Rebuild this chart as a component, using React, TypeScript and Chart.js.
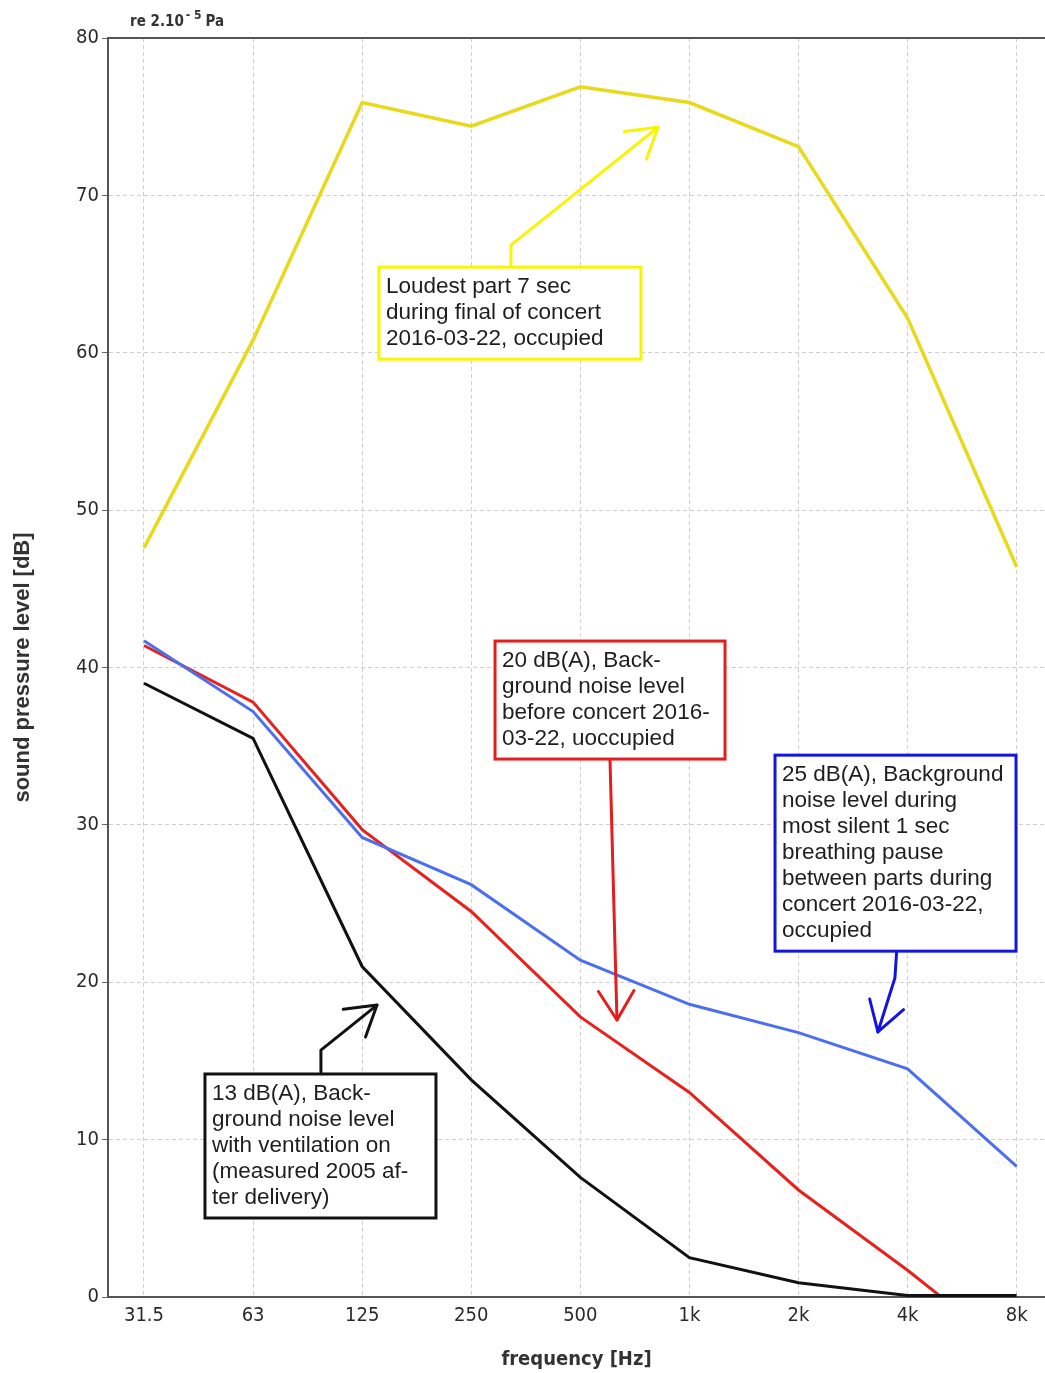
import React, { useEffect, useRef } from "react";
import { Chart, registerables } from "chart.js";

Chart.register(...registerables);

// ---- data ----
const frequencyLabels = ["31.5", "63", "125", "250", "500", "1k", "2k", "4k", "8k"];
const octaveIndex = [0, 1, 2, 3, 4, 5, 6, 7, 8];
const yTickValues = [0, 10, 20, 30, 40, 50, 60, 70, 80];

const loudestConcert = [47.6, 60.8, 75.9, 74.4, 76.9, 75.9, 73.1, 62.2, 46.4];
const backgroundBefore = [41.4, 37.8, 29.7, 24.5, 17.8, 13.0, 6.8, 1.7, -3.8];
const breathingPause = [41.7, 37.2, 29.2, 26.2, 21.4, 18.6, 16.8, 14.5, 8.3];
const ventilationOn = [39.0, 35.5, 21.0, 13.8, 7.6, 2.5, 0.9, 0.1, 0.1];

const yellowText = ["Loudest part 7 sec", "during final of concert", "2016-03-22, occupied"];
const redText = ["20 dB(A), Back-", "ground noise level", "before concert 2016-", "03-22, uoccupied"];
const blueText = [
  "25 dB(A), Background",
  "noise level during",
  "most silent 1 sec",
  "breathing pause",
  "between parts during",
  "concert 2016-03-22,",
  "occupied",
];
const blackText = ["13 dB(A), Back-", "ground noise level", "with ventilation on", "(measured 2005 af-", "ter delivery)"];

// annotation anchors in data coordinates (octave index, dB)
const yellowBoxAt = [2.154, 65.44];
const redBoxAt = [3.218, 41.68];
const blueBoxAt = [5.785, 34.43];
const blackBoxAt = [0.559, 14.17];
const yellowArrow = [[3.364, 65.44], [3.364, 66.84], [4.712, 74.33]];
const redArrow = [[4.272, 34.18], [4.336, 17.6]];
const blueArrow = [[6.902, 22.17], [6.884, 20.27], [6.728, 16.84]];
const blackArrow = [[1.622, 14.29], [1.622, 15.69], [2.136, 18.55]];

const TICK_FONT = "'Liberation Sans Narrow', 'DejaVu Sans Condensed', 'Liberation Sans', sans-serif";
const BOX_FONT = "'Liberation Sans', Arial, sans-serif";

type Ann = {
  color: string;
  lines: string[];
  at: number[];
  width: number;
  arrow: number[][];
};

const annotations: Ann[] = [
  { color: "#f7f500", lines: yellowText, at: yellowBoxAt, width: 262, arrow: yellowArrow },
  { color: "#e41d1d", lines: redText, at: redBoxAt, width: 230, arrow: redArrow },
  { color: "#1414e0", lines: blueText, at: blueBoxAt, width: 241, arrow: blueArrow },
  { color: "#111111", lines: blackText, at: blackBoxAt, width: 231, arrow: blackArrow },
];

const decorPlugin = {
  id: "decor",
  afterDraw(chart: any) {
    const { ctx, chartArea, scales } = chart;
    const xs = scales.x;
    const ys = scales.y;
    ctx.save();

    // top frame line
    ctx.strokeStyle = "#555";
    ctx.lineWidth = 2;
    ctx.beginPath();
    ctx.moveTo(chartArea.left, chartArea.top);
    ctx.lineTo(chartArea.right, chartArea.top);
    ctx.stroke();

    // reference note
    ctx.fillStyle = "#333";
    ctx.textBaseline = "alphabetic";
    ctx.textAlign = "left";
    ctx.font = `bold 15px ${TICK_FONT}`;
    let nx = chartArea.left + 22;
    const ny = chartArea.top - 12;
    ctx.fillText("re 2.10", nx, ny);
    nx += ctx.measureText("re 2.10").width;
    ctx.font = `bold 12px ${TICK_FONT}`;
    ctx.fillText("- 5", nx + 2, ny - 7);
    nx += ctx.measureText("- 5").width + 6;
    ctx.font = `bold 15px ${TICK_FONT}`;
    ctx.fillText("Pa", nx, ny);

    // axis titles
    ctx.fillStyle = "#333";
    ctx.font = `bold 20px ${TICK_FONT}`;
    ctx.textAlign = "center";
    ctx.fillText("frequency [Hz]", (chartArea.left + chartArea.right) / 2, chartArea.bottom + 68);

    ctx.save();
    ctx.translate(29, (chartArea.top + chartArea.bottom) / 2);
    ctx.rotate(-Math.PI / 2);
    ctx.font = `bold 22px ${BOX_FONT}`;
    ctx.fillStyle = "#333";
    ctx.textAlign = "center";
    ctx.fillText("sound pressure level [dB]", 0, 0);
    ctx.restore();

    // arrows
    annotations.forEach((a) => {
      const pts = a.arrow.map((p) => [xs.getPixelForValue(p[0]), ys.getPixelForValue(p[1])]);
      ctx.strokeStyle = a.color;
      ctx.lineWidth = 3;
      ctx.lineJoin = "round";
      ctx.lineCap = "round";
      ctx.beginPath();
      ctx.moveTo(pts[0][0], pts[0][1]);
      for (let i = 1; i < pts.length; i++) ctx.lineTo(pts[i][0], pts[i][1]);
      ctx.stroke();
      const tip = pts[pts.length - 1];
      const prev = pts[pts.length - 2];
      const ang = Math.atan2(tip[1] - prev[1], tip[0] - prev[0]);
      const len = 34;
      const spread = 0.55;
      ctx.beginPath();
      ctx.moveTo(tip[0] - len * Math.cos(ang - spread), tip[1] - len * Math.sin(ang - spread));
      ctx.lineTo(tip[0], tip[1]);
      ctx.lineTo(tip[0] - len * Math.cos(ang + spread), tip[1] - len * Math.sin(ang + spread));
      ctx.stroke();
    });

    // boxes
    annotations.forEach((a) => {
      const left = xs.getPixelForValue(a.at[0]);
      const top = ys.getPixelForValue(a.at[1]);
      const lh = 26;
      const h = 26 + (a.lines.length - 1) * lh + 14;
      ctx.fillStyle = "#ffffff";
      ctx.fillRect(left, top, a.width, h);
      ctx.strokeStyle = a.color;
      ctx.lineWidth = 3;
      ctx.lineJoin = "miter";
      ctx.strokeRect(left, top, a.width, h);
      ctx.fillStyle = "#1e1e1e";
      ctx.font = `22.5px ${BOX_FONT}`;
      ctx.textAlign = "left";
      ctx.textBaseline = "alphabetic";
      a.lines.forEach((t, i) => {
        ctx.fillText(t, left + 7, top + 26 + i * lh);
      });
    });

    ctx.restore();
  },
};

export default function App() {
  const canvasRef = useRef<HTMLCanvasElement | null>(null);

  useEffect(() => {
    const canvas = canvasRef.current;
    if (!canvas) return;
    const mk = (data: number[]) => octaveIndex.map((x, i) => ({ x, y: data[i] }));
    const chart = new Chart(canvas, {
      type: "line",
      data: {
        datasets: [
          {
            label: "13 dB(A) ventilation on",
            data: mk(ventilationOn),
            borderColor: "#111111",
            borderWidth: 3,
            pointRadius: 0,
            tension: 0,
            clip: false as any,
          },
          {
            label: "25 dB(A) breathing pause",
            data: mk(breathingPause),
            borderColor: "#4b6ff0",
            borderWidth: 3,
            pointRadius: 0,
            tension: 0,
          },
          {
            label: "20 dB(A) before concert",
            data: mk(backgroundBefore),
            borderColor: "#e8211c",
            borderWidth: 3,
            pointRadius: 0,
            tension: 0,
          },
          {
            label: "Loudest part",
            data: mk(loudestConcert),
            borderColor: "#e9d91c",
            borderWidth: 3.5,
            pointRadius: 0,
            tension: 0,
          },
        ],
      },
      options: {
        responsive: false,
        animation: false,
        layout: { padding: { top: 38, left: 0, right: 0, bottom: 0 } },
        plugins: { legend: { display: false }, tooltip: { enabled: false } },
        scales: {
          x: {
            type: "linear",
            min: -0.33,
            max: 8.26,
            afterFit: (s: any) => {
              s.height = 76;
            },
            afterBuildTicks: (s: any) => {
              s.ticks = octaveIndex.map((v) => ({ value: v }));
            },
            ticks: {
              autoSkip: false,
              padding: 7,
              color: "#2a2a2a",
              font: { family: TICK_FONT, size: 20 },
              callback: (v: any) => frequencyLabels[Math.round(Number(v))] ?? "",
            },
            grid: {
              color: "#cfcfcf",
              lineWidth: 1,
              drawTicks: false,
            },
            border: { display: true, color: "#555", width: 2, dash: [4, 3] },
          },
          y: {
            type: "linear",
            min: 0,
            max: 80,
            afterFit: (s: any) => {
              s.width = 108;
            },
            afterBuildTicks: (s: any) => {
              s.ticks = yTickValues.map((v) => ({ value: v }));
            },
            ticks: {
              padding: 3,
              color: "#2a2a2a",
              font: { family: TICK_FONT, size: 20 },
            },
            grid: {
              color: "#cfcfcf",
              lineWidth: 1,
              tickLength: 6,
              tickColor: "#666",
              tickBorderDash: [],
            },
            border: { display: true, color: "#555", width: 2, dash: [4, 3] },
          },
        },
      } as any,
      plugins: [decorPlugin],
    });
    return () => chart.destroy();
  }, []);

  return (
    <div style={{ position: "absolute", left: 0, top: 0, width: 1045, height: 1373, background: "#fff" }}>
      <canvas ref={canvasRef} width={1045} height={1373} style={{ width: 1045, height: 1373, display: "block" }} />
    </div>
  );
}
